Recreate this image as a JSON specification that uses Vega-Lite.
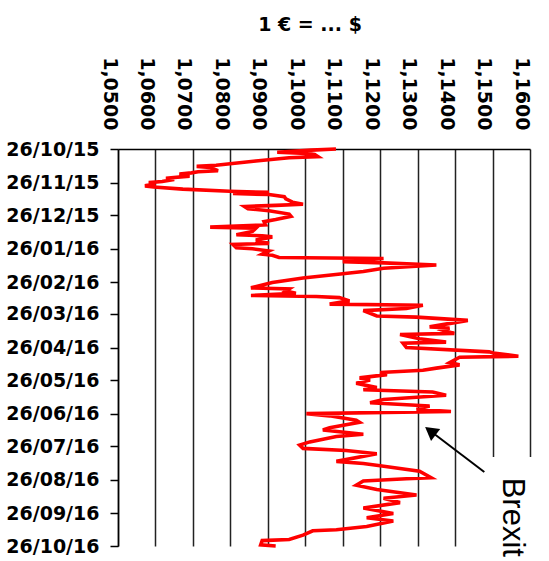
{
  "$schema": "https://vega.github.io/schema/vega-lite/v6.json",
  "width": 412,
  "height": 397,
  "autosize": {"type": "none"},
  "padding": {"left": 118, "top": 149, "right": 19, "bottom": 15},
  "background": "white",
  "config": {"view": {"stroke": null}, "font": "DejaVu Sans", "axis": {"labelOverlap": false, "labelFlush": false, "labelBound": false}},
  "title": {"text": "1 € = ... $", "font": "DejaVu Sans", "fontSize": 19, "fontWeight": "bold", "color": "black", "offset": 22, "dx": -14, "anchor": "middle"},
  "layer": [
    {
      "data": {"values": [
        {"date": "2015-10-26", "rate": 1.1082},
        {"date": "2015-10-27", "rate": 1.1016},
        {"date": "2015-10-29", "rate": 1.0925},
        {"date": "2015-10-30", "rate": 1.1003},
        {"date": "2015-10-31", "rate": 1.1025},
        {"date": "2015-11-02", "rate": 1.1034},
        {"date": "2015-11-03", "rate": 1.0957},
        {"date": "2015-11-06", "rate": 1.0868},
        {"date": "2015-11-10", "rate": 1.0762},
        {"date": "2015-11-11", "rate": 1.0710},
        {"date": "2015-11-12", "rate": 1.0746},
        {"date": "2015-11-15", "rate": 1.0767},
        {"date": "2015-11-16", "rate": 1.0714},
        {"date": "2015-11-17", "rate": 1.0696},
        {"date": "2015-11-18", "rate": 1.0664},
        {"date": "2015-11-20", "rate": 1.0691},
        {"date": "2015-11-22", "rate": 1.0628},
        {"date": "2015-11-23", "rate": 1.0650},
        {"date": "2015-11-25", "rate": 1.0618},
        {"date": "2015-11-26", "rate": 1.0582},
        {"date": "2015-11-27", "rate": 1.0600},
        {"date": "2015-11-29", "rate": 1.0572},
        {"date": "2015-11-30", "rate": 1.0595},
        {"date": "2015-12-02", "rate": 1.0673},
        {"date": "2015-12-04", "rate": 1.0798},
        {"date": "2015-12-05", "rate": 1.0903},
        {"date": "2015-12-06", "rate": 1.0807},
        {"date": "2015-12-07", "rate": 1.0903},
        {"date": "2015-12-09", "rate": 1.0944},
        {"date": "2015-12-11", "rate": 1.0948},
        {"date": "2015-12-14", "rate": 1.0966},
        {"date": "2015-12-16", "rate": 1.0994},
        {"date": "2015-12-17", "rate": 1.0921},
        {"date": "2015-12-18", "rate": 1.0838},
        {"date": "2015-12-20", "rate": 1.0847},
        {"date": "2015-12-22", "rate": 1.0903},
        {"date": "2015-12-25", "rate": 1.0957},
        {"date": "2015-12-27", "rate": 1.0962},
        {"date": "2015-12-30", "rate": 1.0921},
        {"date": "2016-01-01", "rate": 1.0890},
        {"date": "2016-01-04", "rate": 1.0894},
        {"date": "2016-01-06", "rate": 1.0746},
        {"date": "2016-01-07", "rate": 1.0868},
        {"date": "2016-01-10", "rate": 1.0859},
        {"date": "2016-01-13", "rate": 1.0816},
        {"date": "2016-01-14", "rate": 1.0885},
        {"date": "2016-01-15", "rate": 1.0912},
        {"date": "2016-01-18", "rate": 1.0868},
        {"date": "2016-01-21", "rate": 1.0903},
        {"date": "2016-01-22", "rate": 1.0807},
        {"date": "2016-01-25", "rate": 1.0816},
        {"date": "2016-01-26", "rate": 1.0859},
        {"date": "2016-01-28", "rate": 1.0903},
        {"date": "2016-01-31", "rate": 1.0885},
        {"date": "2016-02-01", "rate": 1.0912},
        {"date": "2016-02-03", "rate": 1.0930},
        {"date": "2016-02-04", "rate": 1.1209},
        {"date": "2016-02-07", "rate": 1.1100},
        {"date": "2016-02-08", "rate": 1.1209},
        {"date": "2016-02-10", "rate": 1.1350},
        {"date": "2016-02-13", "rate": 1.1209},
        {"date": "2016-02-16", "rate": 1.1155},
        {"date": "2016-02-18", "rate": 1.1100},
        {"date": "2016-02-22", "rate": 1.0994},
        {"date": "2016-02-26", "rate": 1.0912},
        {"date": "2016-03-02", "rate": 1.0855},
        {"date": "2016-03-03", "rate": 1.0957},
        {"date": "2016-03-05", "rate": 1.0948},
        {"date": "2016-03-07", "rate": 1.0975},
        {"date": "2016-03-09", "rate": 1.0855},
        {"date": "2016-03-10", "rate": 1.1029},
        {"date": "2016-03-11", "rate": 1.1091},
        {"date": "2016-03-14", "rate": 1.1118},
        {"date": "2016-03-17", "rate": 1.1065},
        {"date": "2016-03-18", "rate": 1.1314},
        {"date": "2016-03-21", "rate": 1.1270},
        {"date": "2016-03-23", "rate": 1.1155},
        {"date": "2016-03-28", "rate": 1.1191},
        {"date": "2016-03-29", "rate": 1.1297},
        {"date": "2016-04-01", "rate": 1.1434},
        {"date": "2016-04-07", "rate": 1.1332},
        {"date": "2016-04-08", "rate": 1.1385},
        {"date": "2016-04-10", "rate": 1.1367},
        {"date": "2016-04-13", "rate": 1.1398},
        {"date": "2016-04-14", "rate": 1.1253},
        {"date": "2016-04-18", "rate": 1.1305},
        {"date": "2016-04-21", "rate": 1.1376},
        {"date": "2016-04-22", "rate": 1.1261},
        {"date": "2016-04-26", "rate": 1.1270},
        {"date": "2016-04-30", "rate": 1.1491},
        {"date": "2016-05-01", "rate": 1.1502},
        {"date": "2016-05-04", "rate": 1.1569},
        {"date": "2016-05-05", "rate": 1.1412},
        {"date": "2016-05-10", "rate": 1.1385},
        {"date": "2016-05-12", "rate": 1.1412},
        {"date": "2016-05-15", "rate": 1.1350},
        {"date": "2016-05-17", "rate": 1.1314},
        {"date": "2016-05-19", "rate": 1.1200},
        {"date": "2016-05-21", "rate": 1.1218},
        {"date": "2016-05-24", "rate": 1.1145},
        {"date": "2016-05-26", "rate": 1.1173},
        {"date": "2016-05-29", "rate": 1.1136},
        {"date": "2016-06-02", "rate": 1.1191},
        {"date": "2016-06-04", "rate": 1.1155},
        {"date": "2016-06-06", "rate": 1.1340},
        {"date": "2016-06-09", "rate": 1.1376},
        {"date": "2016-06-13", "rate": 1.1209},
        {"date": "2016-06-16", "rate": 1.1173},
        {"date": "2016-06-19", "rate": 1.1332},
        {"date": "2016-06-22", "rate": 1.1297},
        {"date": "2016-06-24", "rate": 1.1389},
        {"date": "2016-06-26", "rate": 1.1003},
        {"date": "2016-06-28", "rate": 1.1065},
        {"date": "2016-07-02", "rate": 1.1136},
        {"date": "2016-07-04", "rate": 1.1145},
        {"date": "2016-07-09", "rate": 1.1065},
        {"date": "2016-07-11", "rate": 1.1047},
        {"date": "2016-07-15", "rate": 1.1155},
        {"date": "2016-07-17", "rate": 1.1083},
        {"date": "2016-07-22", "rate": 1.1012},
        {"date": "2016-07-25", "rate": 1.0985},
        {"date": "2016-07-28", "rate": 1.0994},
        {"date": "2016-07-30", "rate": 1.1109},
        {"date": "2016-08-02", "rate": 1.1191},
        {"date": "2016-08-09", "rate": 1.1083},
        {"date": "2016-08-11", "rate": 1.1155},
        {"date": "2016-08-13", "rate": 1.1200},
        {"date": "2016-08-18", "rate": 1.1305},
        {"date": "2016-08-24", "rate": 1.1336},
        {"date": "2016-08-25", "rate": 1.1270},
        {"date": "2016-08-27", "rate": 1.1155},
        {"date": "2016-08-31", "rate": 1.1136},
        {"date": "2016-09-04", "rate": 1.1191},
        {"date": "2016-09-09", "rate": 1.1297},
        {"date": "2016-09-12", "rate": 1.1209},
        {"date": "2016-09-16", "rate": 1.1253},
        {"date": "2016-09-21", "rate": 1.1155},
        {"date": "2016-09-26", "rate": 1.1235},
        {"date": "2016-09-30", "rate": 1.1164},
        {"date": "2016-10-03", "rate": 1.1235},
        {"date": "2016-10-08", "rate": 1.1164},
        {"date": "2016-10-11", "rate": 1.1083},
        {"date": "2016-10-12", "rate": 1.1020},
        {"date": "2016-10-16", "rate": 1.0994},
        {"date": "2016-10-20", "rate": 1.0957},
        {"date": "2016-10-21", "rate": 1.0885},
        {"date": "2016-10-25", "rate": 1.0881},
        {"date": "2016-10-26", "rate": 1.0921}
      ]},
      "mark": {"type": "line", "color": "#ff0000", "strokeWidth": 3.6, "strokeJoin": "miter", "clip": false},
      "encoding": {
        "x": {
          "field": "rate", "type": "quantitative",
          "scale": {"domain": [1.05, 1.16], "nice": false, "zero": false},
          "axis": {
            "orient": "top", "title": null, "tickCount": 40,
            "values": [1.05, 1.06, 1.07, 1.08, 1.09, 1.10, 1.11, 1.12, 1.13, 1.14, 1.15, 1.16],
            "labelExpr": "replace(format(datum.value, '.4f'), '.', ',')",
            "labelAngle": 90, "labelAlign": "right", "labelBaseline": "top",
            "labelFont": "DejaVu Sans", "labelFontWeight": "bold", "labelFontSize": 19, "labelColor": "black",
            "labelPadding": 19, "labelOverlap": false, "labelFlush": false, "labelBound": false,
            "ticks": false, "domainColor": "black", "domainWidth": 1.5,
            "grid": true, "gridColor": "#222222", "gridWidth": 1.5, "gridOpacity": 1
          }
        },
        "y": {
          "field": "date", "type": "temporal",
          "scale": {"type": "utc", "domain": [{"year": 2015, "month": 10, "date": 26, "utc": true}, {"year": 2016, "month": 10, "date": 26, "utc": true}], "reverse": true, "nice": false},
          "axis": {
            "orient": "left", "title": null, "tickCount": 40,
            "values": [
              {"year": 2015, "month": 10, "date": 26, "utc": true},
              {"year": 2015, "month": 11, "date": 26, "utc": true},
              {"year": 2015, "month": 12, "date": 26, "utc": true},
              {"year": 2016, "month": 1, "date": 26, "utc": true},
              {"year": 2016, "month": 2, "date": 26, "utc": true},
              {"year": 2016, "month": 3, "date": 26, "utc": true},
              {"year": 2016, "month": 4, "date": 26, "utc": true},
              {"year": 2016, "month": 5, "date": 26, "utc": true},
              {"year": 2016, "month": 6, "date": 26, "utc": true},
              {"year": 2016, "month": 7, "date": 26, "utc": true},
              {"year": 2016, "month": 8, "date": 26, "utc": true},
              {"year": 2016, "month": 9, "date": 26, "utc": true},
              {"year": 2016, "month": 10, "date": 26, "utc": true}
            ],
            "labelExpr": "utcFormat(datum.value, '%d/%m/%y')",
            "grid": false, "tickSize": 8, "tickColor": "black", "tickWidth": 1.5,
            "domainColor": "black", "domainWidth": 1.5,
            "labelFont": "DejaVu Sans", "labelFontWeight": "bold", "labelFontSize": 19, "labelColor": "black",
            "labelPadding": 11, "labelOverlap": false, "labelFlush": false, "labelBound": false
          }
        },
        "order": {"field": "date", "type": "temporal"}
      }
    },
    {
      "data": {"values": [{}]},
      "mark": {"type": "rect", "color": "white"},
      "encoding": {
        "x": {"datum": 1.146, "type": "quantitative"},
        "x2": {"datum": 1.1625},
        "y": {"datum": {"year": 2016, "month": 8, "date": 5, "utc": true}, "type": "temporal"},
        "y2": {"datum": {"year": 2016, "month": 10, "date": 27, "utc": true}}
      }
    },
    {
      "data": {"values": [{}]},
      "mark": {"type": "rule", "color": "black", "strokeWidth": 2},
      "encoding": {
        "x": {"datum": 1.1478, "type": "quantitative"},
        "x2": {"datum": 1.1334},
        "y": {"datum": {"year": 2016, "month": 8, "date": 18, "hours": 19, "utc": true}, "type": "temporal"},
        "y2": {"datum": {"year": 2016, "month": 7, "date": 12, "utc": true}}
      }
    },
    {
      "data": {"values": [{}]},
      "mark": {"type": "point", "shape": "triangle-up", "filled": true, "color": "black", "opacity": 1, "size": 230, "angle": 307},
      "encoding": {
        "x": {"datum": 1.1334, "type": "quantitative"},
        "y": {"datum": {"year": 2016, "month": 7, "date": 12, "utc": true}, "type": "temporal"}
      }
    },
    {
      "data": {"values": [{}]},
      "mark": {"type": "text", "text": "Brexit", "angle": 90, "align": "left", "baseline": "alphabetic", "font": "Liberation Sans", "fontSize": 31, "color": "black"},
      "encoding": {
        "x": {"datum": 1.1528, "type": "quantitative"},
        "y": {"datum": {"year": 2016, "month": 8, "date": 24, "utc": true}, "type": "temporal"}
      }
    }
  ]
}
